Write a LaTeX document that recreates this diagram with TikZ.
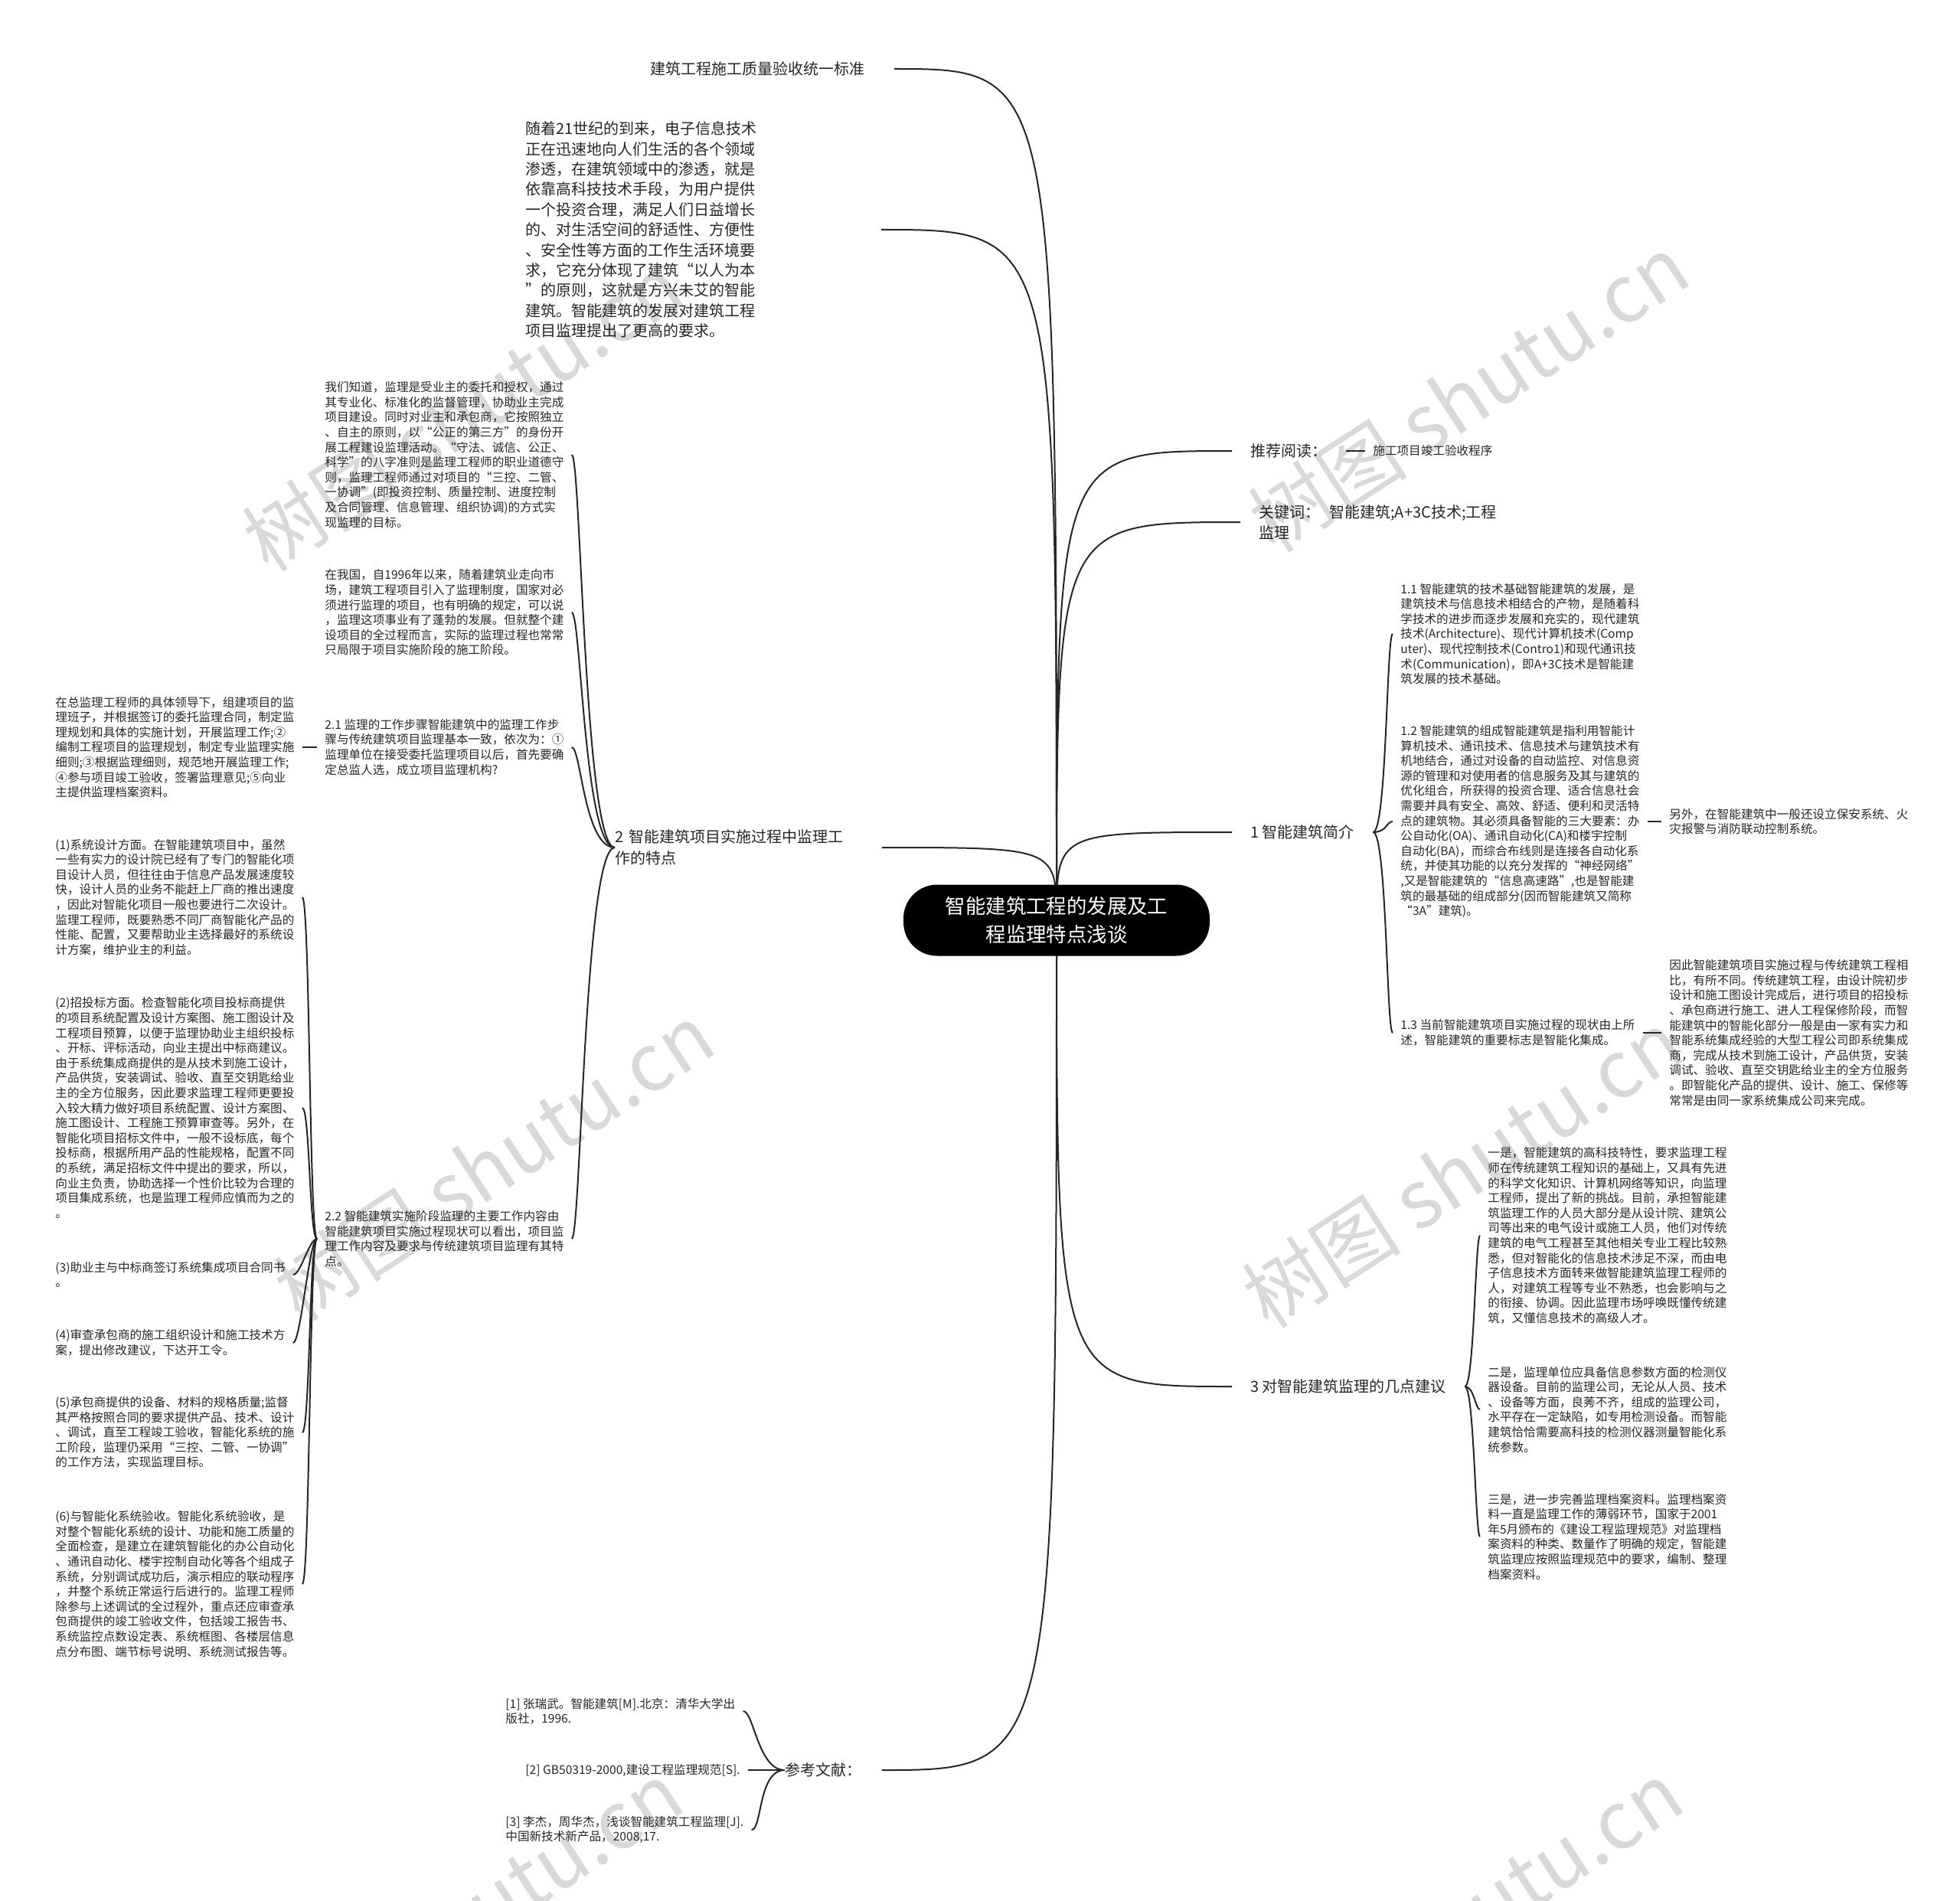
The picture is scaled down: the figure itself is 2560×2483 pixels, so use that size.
\documentclass[tikz,border=0pt]{standalone}
\usepackage{fontspec}
\setmainfont{Noto Sans CJK SC}
\usetikzlibrary{backgrounds}

\begin{document}
\begin{tikzpicture}[x=0.5pt,y=-0.5pt,
  rootbox/.style={fill=black,text=white,rounded corners=22pt,minimum width=200pt,minimum height=46.5pt,align=center,font=\fontsize{13.2}{18.8}\selectfont},
  lefttopic/.style={anchor=west,align=left,inner xsep=0pt,inner ysep=3pt,text=black!85,font=\fontsize{10}{13.9}\selectfont},
  topicbox/.style={anchor=west,align=left,inner xsep=12pt,inner ysep=3pt,text=black!85,font=\fontsize{10}{13.9}\selectfont},
  leafbox/.style={anchor=west,align=left,inner xsep=5pt,inner ysep=2pt,text=black!85,font=\fontsize{7.8}{9.8}\selectfont},
  linkline/.style={line width=1pt,black!85},
  wmark/.style={text=black!15,rotate=33,font=\fontsize{52}{52}\selectfont}]
\useasboundingbox (0,0) rectangle (2560,2483);

% root
\node[rootbox] (root) at (1380,1202) {智能建筑工程的发展及工\\程监理特点浅谈};

% left side
\node[lefttopic,text width=159pt] (std) at (849,90) {建筑工程施工质量验收统一标准};
\node[lefttopic,text width=232pt,font=\fontsize{10}{13.2}\selectfont] (intro) at (686,300) {随着21世纪的到来，电子信息技术\\正在迅速地向人们生活的各个领域\\渗透，在建筑领域中的渗透，就是\\依靠高科技技术手段，为用户提供\\一个投资合理，满足人们日益增长\\的、对生活空间的舒适性、方便性\\、安全性等方面的工作生活环境要\\求，它充分体现了建筑“以人为本\\”的原则，这就是方兴未艾的智能\\建筑。智能建筑的发展对建筑工程\\项目监理提出了更高的要求。};
\node[lefttopic,text width=174pt] (sec2) at (803,1107) {2 智能建筑项目实施过程中监理工\\作的特点};
\node[lefttopic,text width=63pt] (refs) at (1025,2312) {参考文献：};

\node[leafbox] (s2a) at (414,594) {我们知道，监理是受业主的委托和授权，通过\\其专业化、标准化的监督管理，协助业主完成\\项目建设。同时对业主和承包商，它按照独立\\、自主的原则，以“公正的第三方”的身份开\\展工程建设监理活动。“守法、诚信、公正、\\科学”的八字准则是监理工程师的职业道德守\\则，监理工程师通过对项目的“三控、二管、\\一协调”(即投资控制、质量控制、进度控制\\及合同管理、信息管理、组织协调)的方式实\\现监理的目标。};
\node[leafbox] (s2b) at (414,800) {在我国，自1996年以来，随着建筑业走向市\\场，建筑工程项目引入了监理制度，国家对必\\须进行监理的项目，也有明确的规定，可以说\\，监理这项事业有了蓬勃的发展。但就整个建\\设项目的全过程而言，实际的监理过程也常常\\只局限于项目实施阶段的施工阶段。};
\node[leafbox] (s21) at (414,976) {2.1 监理的工作步骤智能建筑中的监理工作步\\骤与传统建筑项目监理基本一致，依次为：①\\监理单位在接受委托监理项目以后，首先要确\\定总监人选，成立项目监理机构?};
\node[leafbox] (s21a) at (62,976) {在总监理工程师的具体领导下，组建项目的监\\理班子，并根据签订的委托监理合同，制定监\\理规划和具体的实施计划，开展监理工作;②\\编制工程项目的监理规划，制定专业监理实施\\细则;③根据监理细则，规范地开展监理工作;\\④参与项目竣工验收，签署监理意见;⑤向业\\主提供监理档案资料。};
\node[leafbox] (s22) at (414,1618) {2.2 智能建筑实施阶段监理的主要工作内容由\\智能建筑项目实施过程现状可以看出，项目监\\理工作内容及要求与传统建筑项目监理有其特\\点。};

\node[leafbox] (w1) at (62,1172) {(1)系统设计方面。在智能建筑项目中，虽然\\一些有实力的设计院已经有了专门的智能化项\\目设计人员，但往往由于信息产品发展速度较\\快，设计人员的业务不能赶上厂商的推出速度\\，因此对智能化项目一般也要进行二次设计。\\监理工程师，既要熟悉不同厂商智能化产品的\\性能、配置，又要帮助业主选择最好的系统设\\计方案，维护业主的利益。};
\node[leafbox] (w2) at (62,1447) {(2)招投标方面。检查智能化项目投标商提供\\的项目系统配置及设计方案图、施工图设计及\\工程项目预算，以便于监理协助业主组织投标\\、开标、评标活动，向业主提出中标商建议。\\由于系统集成商提供的是从技术到施工设计，\\产品供货，安装调试、验收、直至交钥匙给业\\主的全方位服务，因此要求监理工程师更要投\\入较大精力做好项目系统配置、设计方案图、\\施工图设计、工程施工预算审查等。另外，在\\智能化项目招标文件中，一般不设标底，每个\\投标商，根据所用产品的性能规格，配置不同\\的系统，满足招标文件中提出的要求，所以，\\向业主负责，协助选择一个性价比较为合理的\\项目集成系统，也是监理工程师应慎而为之的\\。};
\node[leafbox] (w3) at (62,1665) {(3)助业主与中标商签订系统集成项目合同书\\。};
\node[leafbox] (w4) at (62,1754) {(4)审查承包商的施工组织设计和施工技术方\\案，提出修改建议，下达开工令。};
\node[leafbox] (w5) at (62,1871) {(5)承包商提供的设备、材料的规格质量;监督\\其严格按照合同的要求提供产品、技术、设计\\、调试，直至工程竣工验收，智能化系统的施\\工阶段，监理仍采用“三控、二管、一协调”\\的工作方法，实现监理目标。};
\node[leafbox] (w6) at (62,2069) {(6)与智能化系统验收。智能化系统验收，是\\对整个智能化系统的设计、功能和施工质量的\\全面检查，是建立在建筑智能化的办公自动化\\、通讯自动化、楼宇控制自动化等各个组成子\\系统，分别调试成功后，演示相应的联动程序\\，并整个系统正常运行后进行的。监理工程师\\除参与上述调试的全过程外，重点还应审查承\\包商提供的竣工验收文件，包括竣工报告书、\\系统监控点数设定表、系统框图、各楼层信息\\点分布图、端节标号说明、系统测试报告等。};

\node[leafbox] (r1) at (650,2235) {[1] 张瑞武。智能建筑[M].北京：清华大学出\\版社，1996.};
\node[leafbox] (r2) at (676,2312) {[2] GB50319-2000,建设工程监理规范[S].};
\node[leafbox] (r3) at (650,2390) {[3] 李杰，周华杰，浅谈智能建筑工程监理[J].\\中国新技术新产品，2008,17.};

% right side
\node[topicbox] (tj) at (1609,589) {推荐阅读：};
\node[leafbox] (tjc) at (1783,589) {施工项目竣工验收程序};
\node[topicbox] (kw) at (1620,682) {关键词：\hspace{0.6em}智能建筑;A+3C技术;工程\\监理};
\node[topicbox] (sec1) at (1609,1087) {1 智能建筑简介};
\node[topicbox] (sec3) at (1609,1811) {3 对智能建筑监理的几点建议};

\node[leafbox] (s11) at (1819,828) {1.1 智能建筑的技术基础智能建筑的发展，是\\建筑技术与信息技术相结合的产物，是随着科\\学技术的进步而逐步发展和充实的，现代建筑\\技术(Architecture)、现代计算机技术(Comp\\uter)、现代控制技术(Contro1)和现代通讯技\\术(Communication)，即A+3C技术是智能建\\筑发展的技术基础。};
\node[leafbox] (s12) at (1819,1073) {1.2 智能建筑的组成智能建筑是指利用智能计\\算机技术、通讯技术、信息技术与建筑技术有\\机地结合，通过对设备的自动监控、对信息资\\源的管理和对使用者的信息服务及其与建筑的\\优化组合，所获得的投资合理、适合信息社会\\需要并具有安全、高效、舒适、便利和灵活特\\点的建筑物。其必须具备智能的三大要素：办\\公自动化(OA)、通讯自动化(CA)和楼宇控制\\自动化(BA)，而综合布线则是连接各自动化系\\统，并使其功能的以充分发挥的“神经网络”\\,又是智能建筑的“信息高速路”,也是智能建\\筑的最基础的组成部分(因而智能建筑又简称\\“3A”建筑)。};
\node[leafbox] (s12a) at (2170,1073) {另外，在智能建筑中一般还设立保安系统、火\\灾报警与消防联动控制系统。};
\node[leafbox] (s13) at (1819,1349) {1.3 当前智能建筑项目实施过程的现状由上所\\述，智能建筑的重要标志是智能化集成。};
\node[leafbox] (s13a) at (2170,1349) {因此智能建筑项目实施过程与传统建筑工程相\\比，有所不同。传统建筑工程，由设计院初步\\设计和施工图设计完成后，进行项目的招投标\\、承包商进行施工、进人工程保修阶段，而智\\能建筑中的智能化部分一般是由一家有实力和\\智能系统集成经验的大型工程公司即系统集成\\商，完成从技术到施工设计，产品供货，安装\\调试、验收、直至交钥匙给业主的全方位服务\\。即智能化产品的提供、设计、施工、保修等\\常常是由同一家系统集成公司来完成。};

\node[leafbox] (s3a) at (1933,1614) {一是，智能建筑的高科技特性，要求监理工程\\师在传统建筑工程知识的基础上，又具有先进\\的科学文化知识、计算机网络等知识，向监理\\工程师，提出了新的挑战。目前，承担智能建\\筑监理工作的人员大部分是从设计院、建筑公\\司等出来的电气设计或施工人员，他们对传统\\建筑的电气工程甚至其他相关专业工程比较熟\\悉，但对智能化的信息技术涉足不深，而由电\\子信息技术方面转来做智能建筑监理工程师的\\人，对建筑工程等专业不熟悉，也会影响与之\\的衔接、协调。因此监理市场呼唤既懂传统建\\筑，又懂信息技术的高级人才。};
\node[leafbox] (s3b) at (1933,1841) {二是，监理单位应具备信息参数方面的检测仪\\器设备。目前的监理公司，无论从人员、技术\\、设备等方面，良莠不齐，组成的监理公司，\\水平存在一定缺陷，如专用检测设备。而智能\\建筑恰恰需要高科技的检测仪器测量智能化系\\统参数。};
\node[leafbox] (s3c) at (1933,2007) {三是，进一步完善监理档案资料。监理档案资\\料一直是监理工作的薄弱环节，国家于2001\\年5月颁布的《建设工程监理规范》对监理档\\案资料的种类、数量作了明确的规定，智能建\\筑监理应按照监理规范中的要求，编制、整理\\档案资料。};

\begin{scope}[on background layer]
% watermark
\foreach \wx/\wy [count=\i] in {604/539,1918/514,645/1518,1910/1527,604/2508,1910/2508}
  \node[wmark] (wm\i) at (\wx,\wy) {树图 shutu.cn};

% main branches
\draw[linkline] (root.center) .. controls (root.center |- std.east) .. (std.east);
\draw[linkline] (root.center) .. controls (root.center |- intro.east) .. (intro.east);
\draw[linkline] (root.center) .. controls (root.center |- sec2.east) .. (sec2.east);
\draw[linkline] (root.center) .. controls (root.center |- refs.east) .. (refs.east);
\draw[linkline] (root.center) .. controls (root.center |- tj.west) .. (tj.west);
\draw[linkline] (root.center) .. controls (root.center |- kw.west) .. (kw.west);
\draw[linkline] (root.center) .. controls (root.center |- sec1.west) .. (sec1.west);
\draw[linkline] (root.center) .. controls (root.center |- sec3.west) .. (sec3.west);

% sub branches
\foreach \k in {s2a,s2b,s21,s22}
  \draw[linkline] (sec2.west) .. controls +(-40,0) and +(12,0) .. (\k.east);
\foreach \k in {w1,w2,w3,w4,w5,w6}
  \draw[linkline] (s22.west) .. controls +(-10,0) and +(10,0) .. (\k.east);
\foreach \k in {s11,s12,s13}
  \draw[linkline] (sec1.east) .. controls +(18,0) and +(-8,0) .. (\k.west);
\foreach \k in {s3a,s3b,s3c}
  \draw[linkline] (sec3.east) .. controls +(12,0) and +(-6,0) .. (\k.west);
\foreach \k in {r1,r2,r3}
  \draw[linkline] (refs.west) .. controls +(-35,0) and +(14,0) .. (\k.east);
\draw[linkline] (s21.west) -- (s21a.east);
\draw[linkline] (s12.east) -- (s12a.west);
\draw[linkline] (s13.east) -- (s13a.west);
\draw[linkline] (tj.east) -- (tjc.west);
\end{scope}
\end{tikzpicture}
\end{document}
